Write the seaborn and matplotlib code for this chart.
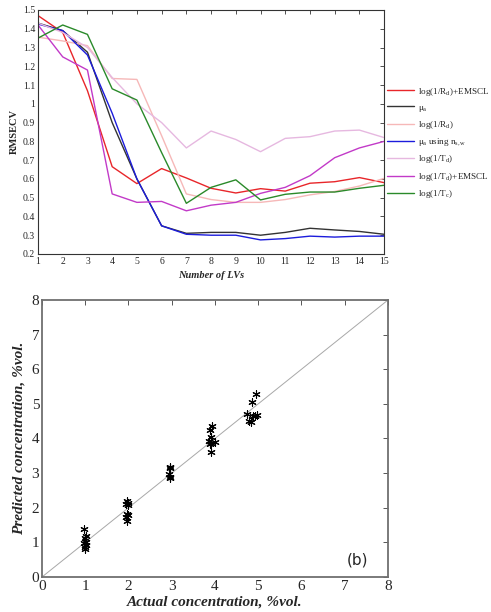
import numpy as np
import pandas as pd
import matplotlib
matplotlib.use("Agg")
import matplotlib.pyplot as plt
from matplotlib.ticker import FormatStrFormatter, MultipleLocator
import seaborn as sns

# ---------------- data: top panel (RMSECV vs number of LVs) ----------------
lvs = list(range(1, 16))
labels = [
    r"log(1/R$_\mathrm{d}$)+EMSCL",
    r"μ$_\mathrm{a}$",
    r"log(1/R$_\mathrm{d}$)",
    r"μ$_\mathrm{a}$ using n$_\mathrm{s,w}$",
    r"log(1/T$_\mathrm{d}$)",
    r"log(1/T$_\mathrm{d}$)+EMSCL",
    r"log(1/T$_\mathrm{c}$)",
]
rd_emscl = [1.47, 1.38, 1.07, 0.665, 0.575, 0.655, 0.605, 0.55, 0.525, 0.548, 0.535, 0.577, 0.585, 0.607, 0.58]
mua = [1.43, 1.39, 1.275, 0.90, 0.60, 0.35, 0.31, 0.315, 0.315, 0.30, 0.315, 0.337, 0.328, 0.32, 0.305]
rd = [1.355, 1.335, 1.31, 1.135, 1.13, 0.83, 0.52, 0.49, 0.475, 0.475, 0.49, 0.515, 0.533, 0.562, 0.603]
mua_nsw = [1.425, 1.39, 1.26, 0.95, 0.60, 0.35, 0.305, 0.30, 0.30, 0.275, 0.282, 0.295, 0.29, 0.295, 0.295]
td = [1.43, 1.38, 1.30, 1.14, 1.00, 0.90, 0.765, 0.855, 0.81, 0.745, 0.816, 0.825, 0.855, 0.86, 0.82]
td_emscl = [1.42, 1.25, 1.18, 0.52, 0.475, 0.48, 0.43, 0.46, 0.475, 0.523, 0.555, 0.617, 0.713, 0.765, 0.80]
tc = [1.35, 1.42, 1.37, 1.08, 1.02, 0.74, 0.47, 0.555, 0.595, 0.488, 0.518, 0.53, 0.53, 0.55, 0.566]
series = [rd_emscl, mua, rd, mua_nsw, td, td_emscl, tc]
colors = ["#e8262a", "#333333", "#f6b8b8", "#1c1cdc", "#e6b8e0", "#c23ac8", "#2a8a2a"]

# ---------------- data: bottom panel (predicted vs actual) ----------------
actual = [0.98, 1.02, 1.0, 1.02, 0.98, 1.01, 0.99, 1.0,
          1.96, 1.98, 1.94, 1.99, 1.96, 1.98, 1.95, 1.97,
          2.95, 2.97, 2.94, 2.96, 2.95,
          3.92, 3.88, 3.90, 3.86, 3.90, 4.00, 3.90, 3.88,
          4.95, 4.86, 4.75, 4.79, 4.83, 4.92, 4.97, 4.88]
predicted = [1.40, 1.18, 1.12, 1.02, 0.97, 0.92, 0.88, 0.82,
             2.20, 2.15, 2.12, 2.08, 1.82, 1.78, 1.74, 1.63,
             3.18, 3.15, 2.98, 2.88, 2.85,
             4.35, 4.25, 4.05, 3.92, 3.88, 3.90, 3.60, 3.85,
             5.28, 5.04, 4.70, 4.51, 4.49, 4.65, 4.68, 4.64]

# ---------------- style ----------------
sns.set_style("white")
plt.rcParams["font.family"] = ["Liberation Serif", "DejaVu Serif"]
plt.rcParams["mathtext.fontset"] = "custom"
plt.rcParams["mathtext.rm"] = "Liberation Serif"
plt.rcParams["mathtext.it"] = "Liberation Serif:italic"

fig = plt.figure(figsize=(4.91, 6.12), dpi=100)

# ---------------- top panel ----------------
ax1 = fig.add_axes([0.0774, 0.585, 0.705, 0.3987])
df = pd.DataFrame({
    "LV": np.tile(lvs, len(labels)),
    "RMSECV": np.concatenate(series),
    "method": np.repeat(labels, len(lvs)),
})
sns.lineplot(data=df, x="LV", y="RMSECV", hue="method", hue_order=labels,
             palette=dict(zip(labels, colors)), linewidth=1.0, ax=ax1)
ax1.set_xlim(1, 15)
ax1.set_ylim(0.2, 1.5)
ax1.xaxis.set_major_locator(MultipleLocator(1))
ax1.yaxis.set_major_locator(MultipleLocator(0.1))
ax1.yaxis.set_major_formatter(FormatStrFormatter("%g"))
ax1.tick_params(direction="in", top=True, right=True, length=3, width=0.6,
                labelsize=7, pad=2, color="#333333")
for s in ax1.spines.values():
    s.set_color("#333333")
    s.set_linewidth(0.8)
ax1.set_xlabel("Number of LVs", fontsize=7.5, fontweight="bold", fontstyle="italic", labelpad=4)
ax1.set_ylabel("RMSECV", fontsize=7.5, fontweight="bold", labelpad=3)
leg = ax1.legend(loc="upper left", bbox_to_anchor=(1.009, 0.69), frameon=False,
                 fontsize=6.6, handlelength=2.95, handletextpad=0.4,
                 labelspacing=0.6, borderaxespad=0, borderpad=0)
for line in leg.get_lines():
    line.set_linewidth(1.0)

# ---------------- bottom panel ----------------
ax2 = fig.add_axes([0.0855, 0.0572, 0.7047, 0.4526])
ax2.axline((0, 0), slope=1, color="#a8a8a8", linewidth=0.7, zorder=1)
sns.scatterplot(x=actual, y=predicted, marker=(6, 2, 0), s=28, color="black",
                linewidth=0.8, ax=ax2, zorder=3)
ax2.set_xlim(0, 8)
ax2.set_ylim(0, 8)
ax2.xaxis.set_major_locator(MultipleLocator(1))
ax2.yaxis.set_major_locator(MultipleLocator(1))
ax2.tick_params(direction="in", top=True, right=True, length=3.5, width=0.7,
                labelsize=11, pad=2, color="#555555")
for s in ax2.spines.values():
    s.set_color("#707070")
    s.set_linewidth(1.3)
ax2.set_xlabel("Actual concentration, %vol.", fontsize=11, fontweight="bold",
               fontstyle="italic", labelpad=2)
ax2.set_ylabel("Predicted concentration, %vol.", fontsize=11, fontweight="bold",
               fontstyle="italic", labelpad=4)
ax2.text(7.55, 0.5, "(b)", fontsize=11, family="DejaVu Sans", ha="right", va="center")

fig.savefig("out.png", dpi=100)
